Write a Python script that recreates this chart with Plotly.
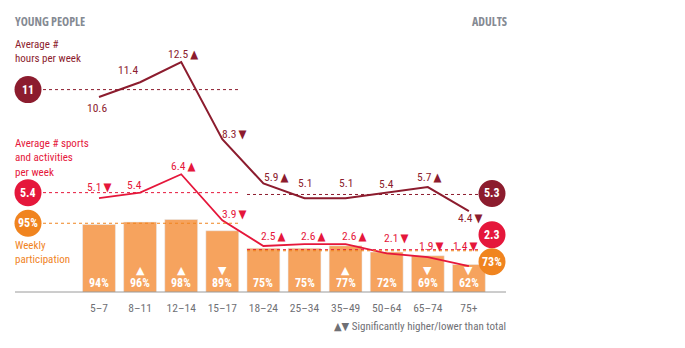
import plotly.graph_objects as go

# ---------------- data ----------------
categories = ["5–7", "8–11", "12–14", "15–17", "18–24", "25–34", "35–49", "50–64", "65–74", "75+"]
hours = [10.6, 11.4, 12.5, 8.3, 5.9, 5.1, 5.1, 5.4, 5.7, 4.4]
hours_sig = ["", "", "▲", "▼", "▲", "", "", "", "▲", "▼"]
sports = [5.1, 5.4, 6.4, 3.9, 2.5, 2.6, 2.6, 2.1, 1.9, 1.4]
sports_sig = ["▼", "", "▲", "▼", "▲", "▲", "▲", "▼", "▼", "▼"]
participation = [94, 96, 98, 89, 75, 75, 77, 72, 69, 62]
participation_sig = ["", "▲", "▲", "▼", "", "", "▲", "", "▼", "▼"]

young_hours_avg = 11
adult_hours_avg = 5.3
young_sports_avg = 5.4
adult_sports_avg = 2.3
young_part_avg = 95
adult_part_avg = 73

# ---------------- styles / positions ----------------
C_HOURS = "#8c1c2e"
C_SPORTS = "#e5173b"
C_BAR = "#f6a35e"
C_ORANGE = "#f0841f"
C_GREY = "#858a93"
C_TICK = "#6f7075"
FONT = "Roboto Condensed, DejaVu Sans Condensed, sans-serif"
HEAD_FONT = "Open Sans, Roboto Condensed, sans-serif"

hours_shift = [(-2, -11), (-12, 12), (2, 8), (12, 5), (13, 6), (0, 15), (0, 15), (0, 9), (2, 10), (2, -7)]
sports_shift = [(0, 11), (-6, 8), (2, 8), (12, 6), (10, 10), (9, 8), (9, 8), (10, 15), (4, 11), (-3, 20)]

W, H = 685, 348
ML, MR, MT, MB = 5, 100, 5, 56
X0PX, STEP = 99.0, 41.1           # pixel centre of first category, spacing
PLOT_W = W - ML - MR
PLOT_H = H - MT - MB
LINE_PX = 18.4                    # pixels per unit for both lines
BAR_PX = 1.25                     # pixels per percent
BAR_BASE = 40


def idx(px):
    return (px - X0PX) / STEP


def px_x(px):
    return (px - ML) / PLOT_W


def px_y(py):
    return (H - MB - py) / PLOT_H


x = list(range(len(categories)))

fig = go.Figure()
fig.add_trace(go.Bar(x=x, y=participation, marker_color=C_BAR, width=0.8,
                     yaxis="y", hoverinfo="skip"))
fig.add_trace(go.Scatter(x=x, y=hours, mode="lines", line=dict(color=C_HOURS, width=2),
                         yaxis="y2", hoverinfo="skip"))
fig.add_trace(go.Scatter(x=x, y=sports, mode="lines", line=dict(color=C_SPORTS, width=1.8),
                         yaxis="y2", hoverinfo="skip"))

shapes = []
annotations = []

# baseline
shapes.append(dict(type="line", xref="x", yref="y domain", x0=idx(15), x1=idx(506), y0=0, y1=0,
                   line=dict(color="#9a9a9a", width=1)))


# dashed average lines
def dashed(yref, val, x0, x1, color):
    shapes.append(dict(type="line", xref="x", yref=yref, x0=x0, x1=x1, y0=val, y1=val,
                       line=dict(color=color, width=1, dash="dot"), layer="above"))


YX0, YX1 = idx(43), idx(238)
AX0, AX1 = idx(247), idx(478)
dashed("y2", young_hours_avg, YX0, YX1, C_HOURS)
dashed("y2", adult_hours_avg, AX0, AX1, C_HOURS)
dashed("y2", young_sports_avg, YX0, YX1, C_SPORTS)
dashed("y2", adult_sports_avg, AX0, AX1, C_SPORTS)
dashed("y", young_part_avg, YX0, YX1, C_ORANGE)
dashed("y", adult_part_avg, AX0, AX1, C_ORANGE)


def fmt(v):
    return "%g" % v


# circles
def circle(yref, val, xpx, dy, color, text):
    r = 13.5
    shapes.append(dict(type="circle", xref="x", yref=yref, xsizemode="pixel", ysizemode="pixel",
                       xanchor=idx(xpx), yanchor=val, x0=-r, x1=r, y0=-r + dy, y1=r + dy,
                       fillcolor=color, line=dict(color=color, width=0), layer="above"))
    annotations.append(dict(xref="x", yref=yref, x=idx(xpx), y=val, yshift=dy, text="<b>%s</b>" % text,
                            showarrow=False, font=dict(family=FONT, size=12, color="white")))


circle("y2", young_hours_avg, 28, 0, C_HOURS, fmt(young_hours_avg))
circle("y2", young_sports_avg, 28, 0, C_SPORTS, fmt(young_sports_avg))
circle("y", young_part_avg, 28, 0, C_ORANGE, fmt(young_part_avg) + "%")
circle("y2", adult_hours_avg, 492, 1, C_HOURS, fmt(adult_hours_avg))
circle("y2", adult_sports_avg, 492, 15, C_SPORTS, fmt(adult_sports_avg))
circle("y", adult_part_avg, 492, -11, C_ORANGE, fmt(adult_part_avg) + "%")

# point labels
for i, (v, s, (dx, dy)) in enumerate(zip(hours, hours_sig, hours_shift)):
    t = fmt(v) + ("\u2009" + s if s else "")
    annotations.append(dict(xref="x", yref="y2", x=i, y=v, xshift=dx, yshift=dy, text=t, showarrow=False,
                            font=dict(family=FONT, size=11.5, color=C_HOURS)))
for i, (v, s, (dx, dy)) in enumerate(zip(sports, sports_sig, sports_shift)):
    t = fmt(v) + ("\u2009" + s if s else "")
    annotations.append(dict(xref="x", yref="y2", x=i, y=v, xshift=dx, yshift=dy, text=t, showarrow=False,
                            font=dict(family=FONT, size=11.5, color=C_SPORTS)))

# bar labels
for i, (v, s) in enumerate(zip(participation, participation_sig)):
    annotations.append(dict(xref="x", yref="y", x=i, y=BAR_BASE, yshift=9, text="<b>%d%%</b>" % v,
                            showarrow=False, font=dict(family=FONT, size=12, color="white")))
    if s:
        annotations.append(dict(xref="x", yref="y", x=i, y=BAR_BASE, yshift=22, text=s,
                                showarrow=False, font=dict(family="DejaVu Sans", size=11, color="white")))


# static texts
def text(px, py, t, color, size=11, family=FONT):
    annotations.append(dict(xref="paper", yref="paper", x=px_x(px), y=px_y(py), text=t, showarrow=False,
                            xanchor="left", yanchor="middle", align="left",
                            font=dict(family=family, size=size, color=color)))


def condensed(t):
    return '<span style="font-stretch:condensed"><b>%s</b></span>' % t


text(13, 22, condensed("YOUNG PEOPLE"), C_GREY, 12, HEAD_FONT)
text(470, 22, condensed("ADULTS"), C_GREY, 12, HEAD_FONT)
text(13, 52, "Average #<br>hours per week", C_HOURS, 11)
text(13, 158, "Average # sports<br>and activities<br>per week", C_SPORTS, 11)
text(13, 252, "Weekly<br>participation", C_ORANGE, 11)
text(332, 326, "▲▼ Significantly higher/lower than total", C_TICK, 11)

fig.update_layout(
    width=W, height=H,
    margin=dict(l=ML, r=MR, t=MT, b=MB),
    paper_bgcolor="white", plot_bgcolor="white",
    showlegend=False,
    shapes=shapes,
    annotations=annotations,
    xaxis=dict(range=[idx(ML), idx(W - MR)], tickvals=x, ticktext=categories, showgrid=False,
               zeroline=False, showline=False, ticks="", ticklabelstandoff=7,
               tickfont=dict(family=FONT, size=11.5, color=C_TICK), fixedrange=True),
    yaxis=dict(range=[BAR_BASE, BAR_BASE + PLOT_H / BAR_PX], visible=False, fixedrange=True),
    yaxis2=dict(range=[0, PLOT_H / LINE_PX], overlaying="y", visible=False, fixedrange=True),
)

fig.write_html("out.html")
